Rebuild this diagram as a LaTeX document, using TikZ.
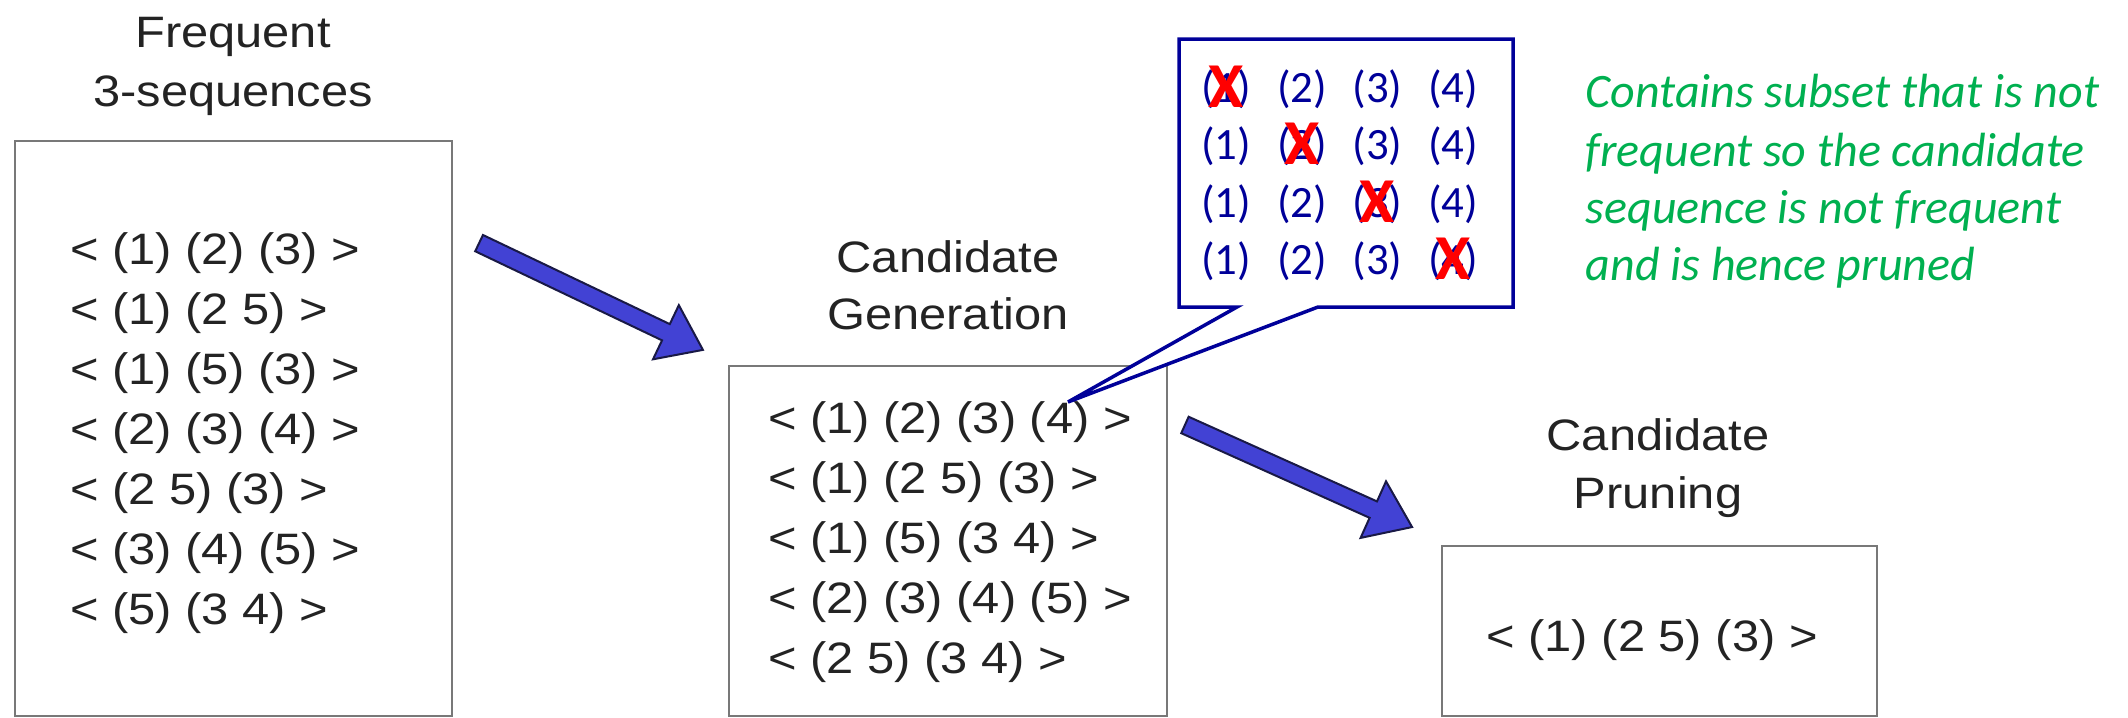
\documentclass[tikz,border=0pt]{standalone}
\usepackage{fontspec}
\newfontfamily\hvfont[FakeStretch=1.11]{Liberation Sans}
\newfontfamily\calfont{Carlito}
\definecolor{boxgray}{RGB}{120,120,120}
\definecolor{seqtext}{RGB}{35,35,35}
\definecolor{arrowfill}{RGB}{66,66,212}
\definecolor{arrowline}{RGB}{25,25,70}
\definecolor{callblue}{RGB}{0,0,153}
\definecolor{notegreen}{RGB}{0,176,80}
\begin{document}
\begin{tikzpicture}[x={(0.25pt,0)}, y={(0,-0.25pt)},
  seq/.style={inner sep=0pt, outer sep=0pt, font=\hvfont\fontsize{11pt}{15pt}\selectfont, text=seqtext},
  boxnode/.style={draw=boxgray, line width=0.625pt, inner sep=0pt, outer sep=0pt, rectangle},
  blockarrow/.style={fill=arrowfill, draw=arrowline, line width=0.5pt, line join=miter},
  calltxt/.style={inner sep=0pt, font=\calfont\fontsize{11.2pt}{14pt}\selectfont, text=callblue},
  crossx/.style={inner sep=0pt, font=\calfont\bfseries\fontsize{16pt}{16pt}\selectfont, text=red},
  note/.style={inner sep=0pt, anchor=base west, font=\calfont\itshape\fontsize{12pt}{14pt}\selectfont, text=notegreen}]
\useasboundingbox (0,0) rectangle (2128,717);

% boxes
\node[boxnode, minimum width=109.25pt, minimum height=143.75pt] (box1) at (233.5,428.5) {};
\node[boxnode, minimum width=109.5pt, minimum height=87.5pt] (box2) at (948,541) {};
\node[boxnode, minimum width=108.75pt, minimum height=42.5pt] (box3) at (1659.5,631) {};

% titles
\node[seq, anchor=base] (t1a) at (233,48) {Frequent};
\node[seq, anchor=base] (t1b) at (233,106) {3-sequences};
\node[seq, anchor=base] (t2a) at (948,272) {Candidate};
\node[seq, anchor=base] (t2b) at (948,329) {Generation};
\node[seq, anchor=base] (t3a) at (1658,450) {Candidate};
\node[seq, anchor=base] (t3b) at (1658,508) {Pruning};

% box 1 contents
\foreach \t [count=\i] in {{< (1) (2) (3) >},{< (1) (2 5) >},{< (1) (5) (3) >},{< (2) (3) (4) >},{< (2 5) (3) >},{< (3) (4) (5) >},{< (5) (3 4) >}}
  \node[seq, anchor=base west] (fa\i) at (70,{264+60*(\i-1)}) {\t};

% box 2 contents
\foreach \t [count=\i] in {{< (1) (2) (3) (4) >},{< (1) (2 5) (3) >},{< (1) (5) (3 4) >},{< (2) (3) (4) (5) >},{< (2 5) (3 4) >}}
  \node[seq, anchor=base west] (cg\i) at (768,{433+60*(\i-1)}) {\t};

% box 3 contents
\node[seq, anchor=base] (cp1) at (1652,651) {< (1) (2 5) (3) >};

% block arrows
\begin{scope}[shift={(591,296.5)}, rotate=-25.5]
  \draw[blockarrow] (-124,-9) -- (83,-9) -- (83,-30) -- (124,0) -- (83,30) -- (83,9) -- (-124,9) -- cycle;
\end{scope}
\begin{scope}[shift={(1298.5,476)}, rotate=-24.2]
  \draw[blockarrow] (-124.5,-9) -- (82,-9) -- (82,-31) -- (124.5,0) -- (82,31) -- (82,9) -- (-124.5,9) -- cycle;
\end{scope}

% callout
\coordinate (ctip) at (1068,402);
\coordinate (cnw) at (1179,39);
\coordinate (cne) at (1513,39);
\coordinate (cse) at (1513,307);
\coordinate (csw) at (1179,307);
\coordinate (cpr) at (1318,307);
\coordinate (cpl) at (1237,307);
\draw[callblue, line width=0.875pt, fill=white, line join=miter]
  (cnw) -- (cne) -- (cse) -- (cpr) -- (ctip) -- (cpl) -- (csw) -- cycle;

\foreach \r/\yb in {1/102,2/159.5,3/217,4/274.5}
  \foreach \c/\xc in {1/1226,2/1302,3/1377.5,4/1453}
    \node[calltxt, anchor=base] (c\r\c) at (\xc,\yb) {(\c)};
\foreach \k/\xc/\yb in {1/1226/102,2/1302/159.5,3/1377.5/217,4/1453/274.5}
  \node[crossx, anchor=base] (x\k) at (\xc,\yb+5) {X};

% note
\node[note] (n1) at (1585,108) {Contains subset that is not};
\node[note] (n2) at (1585,166) {frequent so the candidate};
\node[note] (n3) at (1585,223) {sequence is not frequent};
\node[note] (n4) at (1585,280) {and is hence pruned};
\end{tikzpicture}
\end{document}
